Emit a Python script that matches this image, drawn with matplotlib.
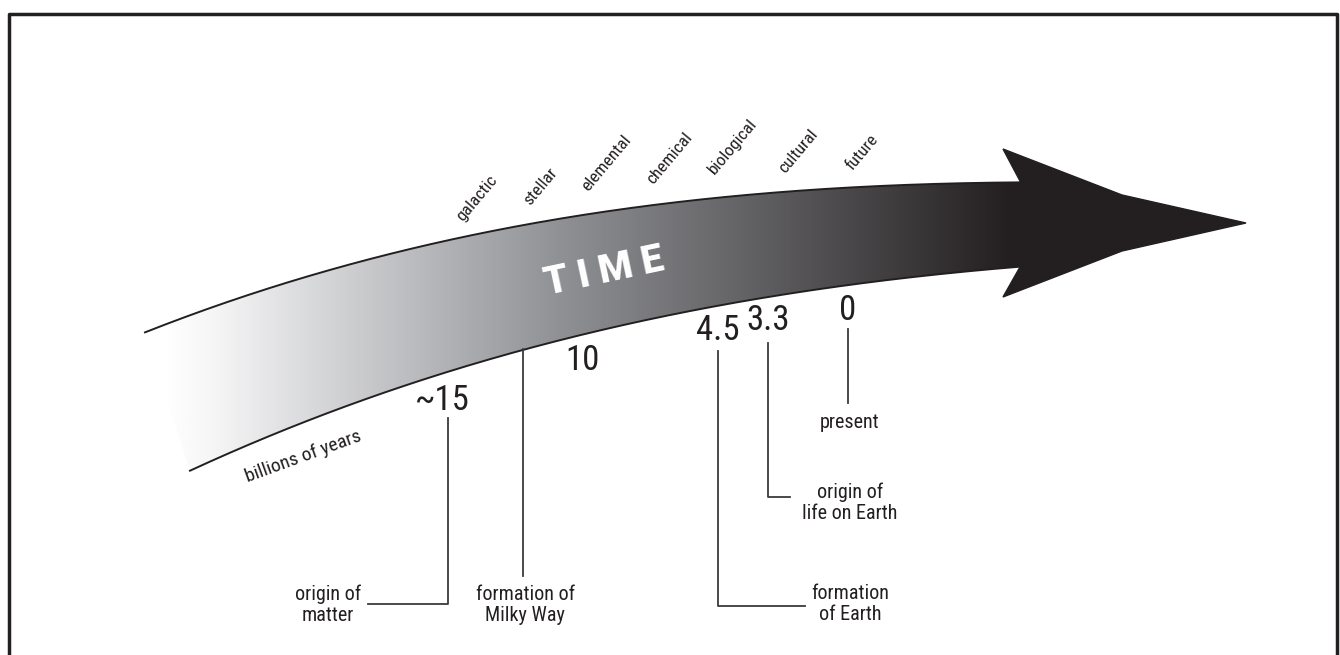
import numpy as np
import matplotlib
matplotlib.use('Agg')
import matplotlib.pyplot as plt
from matplotlib.patches import Polygon
from matplotlib.colors import LinearSegmentedColormap

plt.rcParams['font.family'] = ['Roboto Condensed', 'DejaVu Sans Condensed',
                               'Liberation Sans Narrow', 'Roboto', 'DejaVu Sans']

INK = '#231f20'

# eras written along the top of the arrow
eras = ['galactic', 'stellar', 'elemental', 'chemical', 'biological', 'cultural', 'future']
era_x = [477, 541, 606, 670, 733, 798, 862]
era_y = [198, 187, 163, 158, 147, 151, 152]

# milestones, billions of years ago
ages = ['~15', '10', '4.5', '3.3', '0']
events = ['origin of\nmatter', 'formation of\nMilky Way', 'formation\nof Earth',
          'origin of\nlife on Earth', 'present']
age_x = [442, 583, 718, 768, 848]
age_y = [401, 360, 330, 321, 310]
event_x = [328, 525, 850, 850, 850]
event_y = [605, 605, 604, 503, 422]
# leader lines (x list, y list) from number to caption
leaders = [
    ([448, 448, 368], [418, 604, 604]),
    ([523, 523], [349, 576]),
    ([718, 718, 805], [351, 606, 606]),
    ([768, 768, 790], [343, 497, 497]),
    ([848, 848], [329, 403]),
]

# outline of the shaft (pixel coords, y down)
top_px = [145, 320, 380, 520, 687, 853, 1020]
top_py = [332, 272, 260, 222, 202, 188, 182]
bot_px = [190, 353, 440, 520, 580, 687, 787, 853, 953, 1020]
bot_py = [470, 406, 375, 347, 335, 312, 297, 283, 272, 267]
head_x = [1020, 1003, 1122, 1246, 1122, 1003, 1020]
head_y = [181, 149, 195, 223, 251, 297, 267]

fig = plt.figure(figsize=(13.4, 6.55), dpi=100)
ax = fig.add_axes([0, 0, 1, 1])

top_fit = np.poly1d(np.polyfit(top_px, top_py, 3))
bot_fit = np.poly1d(np.polyfit(bot_px, bot_py, 3))
xt = np.linspace(145, 1020, 300)
xb = np.linspace(190, 1020, 300)

band = np.vstack([np.column_stack([xt, top_fit(xt)]),
                  np.column_stack([xb[::-1], bot_fit(xb[::-1])])])
band_patch = Polygon(band, closed=True, facecolor='none', edgecolor='none')
ax.add_patch(band_patch)

cmap = LinearSegmentedColormap.from_list('time', [
    (0.0, (1, 1, 1)),
    (0.06, (0.96, 0.96, 0.965)),
    (0.47, (0.56, 0.565, 0.58)),
    (1.0, (0.137, 0.122, 0.125)),
])
grad = np.linspace(0, 1, 512).reshape(1, -1)
im = ax.imshow(grad, cmap=cmap, extent=(165, 1012, 480, 170), aspect='auto',
               interpolation='bilinear')
im.set_clip_path(band_patch)
# dark cap between gradient end and arrowhead
xc = np.linspace(1010, 1021, 5)
ax.add_patch(Polygon(np.vstack([np.column_stack([xc, top_fit(xc)]),
                                np.column_stack([xc[::-1], bot_fit(xc[::-1])])]),
                     closed=True, facecolor=INK, edgecolor='none'))

ax.plot(xt, top_fit(xt), color=INK, lw=1.4)
ax.plot(xb, bot_fit(xb), color=INK, lw=1.4)
ax.add_patch(Polygon(np.column_stack([head_x, head_y]), closed=True,
                     facecolor=INK, edgecolor=INK, lw=1, joinstyle='miter'))

ax.text(604, 272, 'T I M E', color='white', fontsize=28, fontweight='heavy',
        family=['Roboto', 'DejaVu Sans'],
        rotation=12, rotation_mode='anchor', ha='center', va='center')

for name, x, y in zip(eras, era_x, era_y):
    ax.text(x, y, name, fontsize=12.5, color=INK, rotation=50,
            rotation_mode='anchor', ha='center', va='center')

ax.text(303, 457, 'billions of years', fontsize=14, color=INK, rotation=20,
        rotation_mode='anchor', ha='center', va='center')

for a, x, y in zip(ages, age_x, age_y):
    ax.text(x, y, a, fontsize=25, color=INK, ha='center', va='center')

for ev, x, y in zip(events, event_x, event_y):
    ax.text(x, y, ev, fontsize=14.5, color=INK, ha='center', va='center',
            multialignment='center', linespacing=1.1)

for lx, ly in leaders:
    ax.plot(lx, ly, color='#3a3a3a', lw=1.3)

# frame: top, left and right only
ax.plot([9, 9, 1337, 1337], [655, 14, 14, 655], color=INK, lw=2.5, clip_on=False)

ax.set_xlim(0, 1340)
ax.set_ylim(655, 0)
ax.axis('off')

fig.savefig('out.png', dpi=100, facecolor='white')
